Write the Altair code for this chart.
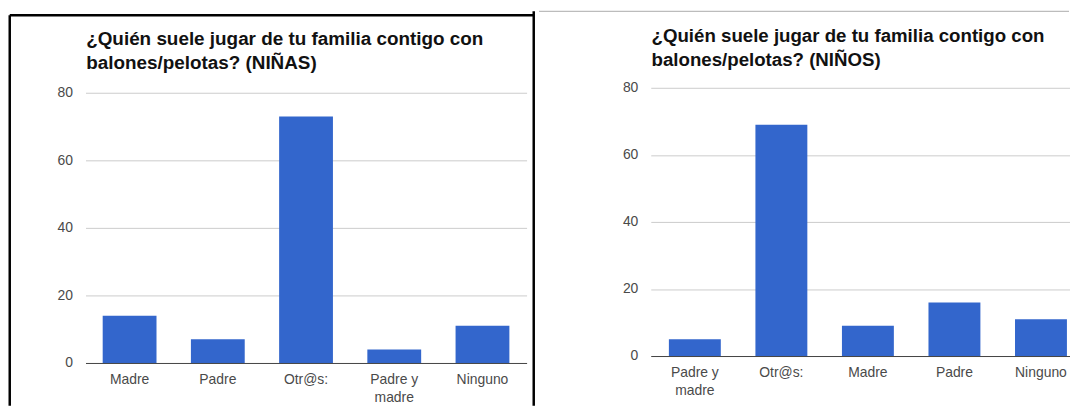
import altair as alt
import pandas as pd

# ---- data ----
cats_ninas = ["Madre", "Padre", "Otr@s:", "Padre y madre", "Ninguno"]
vals_ninas = [14, 7, 73, 4, 11]
cats_ninos = ["Padre y madre", "Otr@s:", "Madre", "Padre", "Ninguno"]
vals_ninos = [5, 69, 9, 16, 11]
title_ninas = ["¿Quién suele jugar de tu familia contigo con", "balones/pelotas? (NIÑAS)"]
title_ninos = ["¿Quién suele jugar de tu familia contigo con", "balones/pelotas? (NIÑOS)"]
y_ticks = [0, 20, 40, 60, 80]

FONT = "Liberation Sans"
BAR = "#3366cc"
LABEL_EXPR = "datum.label == 'Padre y madre' ? ['Padre y', 'madre'] : datum.label"
DECO = alt.Data(values=[{"k": 0}])


def panel(cats, vals, title, width, height, x_scale, y_scale, title_x, title_y,
          title_size, title_lh, label_pad, extras):
    df = pd.DataFrame({"cat": cats, "val": vals})
    bars = alt.Chart(df).mark_bar(color=BAR).encode(
        x=alt.X("cat:N", sort=cats, scale=x_scale,
                axis=alt.Axis(title=None, labelAngle=0, ticks=False, grid=False,
                              domainColor="#444444", labelPadding=label_pad,
                              labelExpr=LABEL_EXPR, labelLineHeight=18,
                              labelFontSize=14, labelColor="#4a4a4a",
                              labelFont=FONT, zindex=1)),
        y=alt.Y("val:Q", scale=y_scale,
                axis=alt.Axis(title=None, values=y_ticks, domain=False, ticks=False,
                              labelPadding=13, gridColor="#cccccc",
                              labelFontSize=14, labelColor="#4a4a4a",
                              labelFont=FONT)),
    )
    ttl = alt.Chart(DECO).mark_text(
        align="left", baseline="alphabetic", font=FONT, fontWeight="bold",
        fontSize=title_size, lineHeight=title_lh, color="#111111"
    ).encode(x=alt.value(title_x), y=alt.value(title_y), text=alt.value(title))
    return alt.layer(bars, ttl, *extras).properties(width=width, height=height)


def rule(color, sw, **enc):
    return alt.Chart(DECO).mark_rule(color=color, strokeWidth=sw).encode(
        **{k: alt.value(v) for k, v in enc.items()})


left_border = [
    rule("#000000", 2.5, x=-76.25, y=-73, y2=320),
    rule("#000000", 2.5, x=-76.25, x2=451.2, y=-73),
    rule("#000000", 2.5, x=451.2, y=-77, y2=320),
]
right_top = [rule("#aaaaaa", 1, x=-112.5, x2=421, y=-77)]

left = panel(
    cats_ninas, vals_ninas, title_ninas, 444, 277,
    alt.Scale(paddingInner=0.39, paddingOuter=0.195),
    alt.Scale(domain=[0, 80], range=[277, 5]),
    0.7, -43.5, 19, 24.5, 10, left_border,
)
right = panel(
    cats_ninos, vals_ninos, title_ninos, 422, 270,
    alt.Scale(paddingInner=0.4, paddingOuter=0.1225, align=0.855),
    alt.Scale(domain=[0, 80]),
    0.8, -45.6, 18.8, 24, 10, right_top,
)

chart = alt.hconcat(left, right, spacing=3).properties(
    padding={"top": 0, "left": 0, "right": 0, "bottom": 0},
    background="white",
).configure_view(strokeWidth=0)

chart.save("out.html", embed_options={"renderer": "svg", "actions": False})
